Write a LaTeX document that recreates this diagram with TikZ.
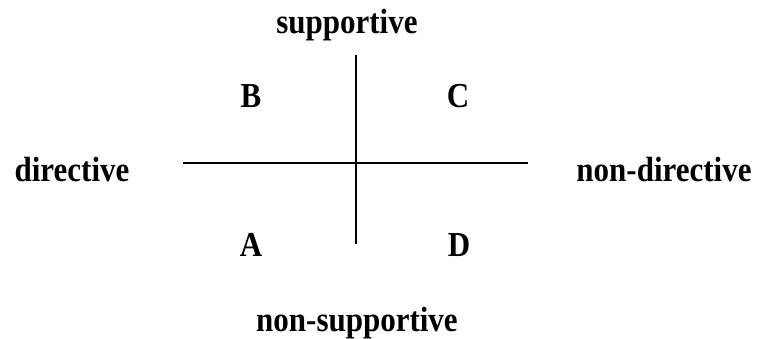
\documentclass[tikz,border=0pt]{standalone}
\usepackage{fontspec}
\setmainfont{Liberation Serif}
\newcommand{\tallt}[1]{\scalebox{1}[1.13]{#1}}
\begin{document}
\begin{tikzpicture}[x=1pt,y=-1pt,
  lbl/.style={anchor=base,inner sep=0pt,font=\fontsize{31}{33}\selectfont\bfseries},
  axis/.style={line width=2pt}]
\useasboundingbox (0,0) rectangle (763,338);
\node[lbl] (sup) at (347,33) {\tallt{supportive}};
\node[lbl] (nsup) at (357,331) {\tallt{non-supportive}};
\node[lbl] (dir) at (72,181) {\tallt{directive}};
\node[lbl] (ndir) at (664,181) {\tallt{non-directive}};
\node[lbl] (B) at (251,107) {\tallt{B}};
\node[lbl] (C) at (458,107) {\tallt{C}};
\node[lbl] (A) at (251,256) {\tallt{A}};
\node[lbl] (D) at (459,256) {\tallt{D}};
\coordinate (vt) at (356,55);
\coordinate (vb) at (356,244);
\coordinate (hl) at (183,163);
\coordinate (hr) at (528,163);
\draw[axis] (vt) -- (vb);
\draw[axis] (hl) -- (hr);
\end{tikzpicture}
\end{document}
